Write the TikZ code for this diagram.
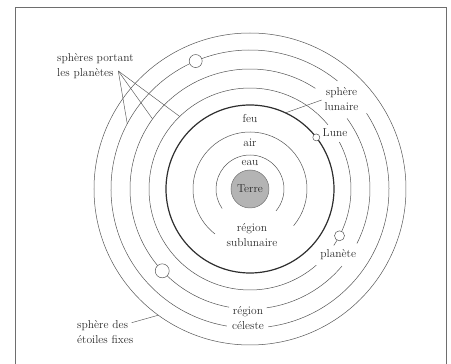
\documentclass[tikz,border=0pt]{standalone}
\usepackage{fontspec}
\definecolor{linec}{HTML}{555555}
\definecolor{lunarc}{HTML}{2E2E2E}
\definecolor{txtc}{HTML}{2A2A2A}
\definecolor{framec}{HTML}{6E6E6E}
\definecolor{terrec}{HTML}{B4B4B4}
\definecolor{terreb}{HTML}{707070}
\begin{document}
\begin{tikzpicture}[x=1pt,y=1pt,
  ln/.style={draw=linec, line width=0.5pt},
  lunar/.style={draw=lunarc, line width=1.2pt},
  lbl/.style={text=txtc, font=\fontsize{11.5}{15}\selectfont, inner sep=0pt, align=center},
  lbll/.style={lbl, align=left},
  planet/.style={circle, draw=linec, fill=white, line width=0.5pt, inner sep=0pt},
  ptr/.style={draw=linec, line width=0.45pt}
]
\useasboundingbox (-250,-175) rectangle (201,189);
% frame
\draw[framec, line width=0.8pt] (-235,-185) -- (-235,182) -- (196.5,182) -- (196.5,-185);
% celestial spheres
\draw[ln] (0,0) circle[radius=156];
\draw[ln] (-82.4:139) arc[start angle=-82.4, end angle=33, radius=139];
\draw[ln] (51:139) arc[start angle=51, end angle=260.4, radius=139];
\draw[ln] (-82:120) arc[start angle=-82, end angle=-40, radius=120];
\draw[ln] (-27:120) arc[start angle=-27, end angle=36, radius=120];
\draw[ln] (57:120) arc[start angle=57, end angle=260, radius=120];
\draw[ln] (-34:101) arc[start angle=-34, end angle=27.7, radius=101];
\draw[ln] (39.5:101) arc[start angle=39.5, end angle=311, radius=101];
% lunar sphere
\draw[lunar] (0,0) circle[radius=84];
% sublunar
\draw[ln] (-40:57) arc[start angle=-40, end angle=232, radius=57];
\draw[ln] (-40:34) arc[start angle=-40, end angle=215, radius=34];
\node[circle, fill=terrec, draw=terreb, line width=0.5pt, minimum size=38pt, inner sep=0pt, lbl] (terre) at (0,0) {Terre};
% planets and moon
\node[planet, minimum size=13pt] (pa) at (113:139) {};
\node[planet, minimum size=14pt] (pb) at (223:120) {};
\node[planet, minimum size=10pt] (pc) at (-27.6:101) {};
\node[planet, minimum size=7pt] (moon) at (37.9:84) {};
% labels
\node[lbl] (feu) at (0,70.5) {feu};
\node[lbl] (air) at (0,46) {air};
\node[lbl] (eau) at (0,26.5) {eau};
\node[lbl] (sublun) at (2,-46) {région\\sublunaire};
\node[lbl] (celeste) at (-2,-129.5) {région\\céleste};
\node[lbl] (sphlun) at (91.5,90) {sphère\\lunaire};
\node[lbl] (lune) at (85,56.3) {Lune};
\node[lbl] (planete) at (88.3,-66) {planète};
\node[lbll, anchor=west] (portant) at (-193,123.3) {sphères portant\\les planètes};
\node[lbll, anchor=west] (fixes) at (-173,-143) {sphère des\\étoiles fixes};
% pointers
\coordinate (apex) at (-131.7,118);
\coordinate (s1) at (152:139);
\coordinate (s2) at (144.3:120);
\coordinate (s3) at (134.1:101);
\draw[ptr] (apex) -- (s1);
\draw[ptr] (apex) -- (s2);
\draw[ptr] (apex) -- (s3);
\coordinate (lunstart) at (71.7,89);
\coordinate (lunend) at (65:84);
\draw[ptr] (lunstart) -- (lunend);
\coordinate (fixstart) at (-118.3,-133.7);
\coordinate (fixend) at (234:156);
\draw[ptr] (fixstart) -- (fixend);
\end{tikzpicture}
\end{document}
